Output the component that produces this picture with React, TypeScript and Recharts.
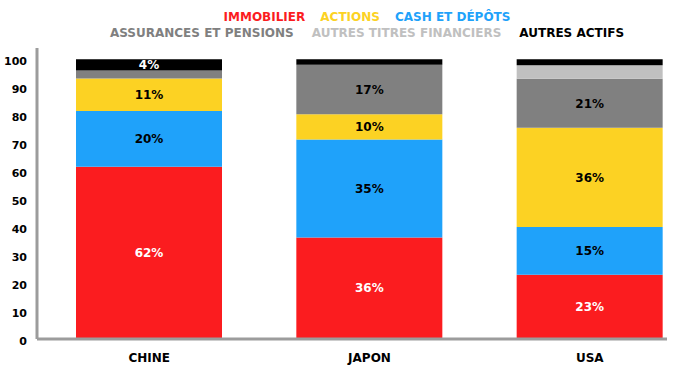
import { BarChart, Bar, XAxis, YAxis, LabelList } from "recharts";

const categories = ["CHINE", "JAPON", "USA"];

// stacked bottom -> top
const immobilier = [61.6, 36.3, 23];
const cash = [19.9, 35, 17];
const actions = [11.6, 9, 35.5];
const assurances = [2.9, 17.7, 17.5];
const autresTitres = [0, 0, 4.8];
const autresActifs = [4, 2, 2.2];

const immobilierLabels = ["62%", "36%", "23%"];
const cashLabels = ["20%", "35%", "15%"];
const actionsLabels = ["11%", "10%", "36%"];
const assurancesLabels = ["", "17%", "21%"];
const autresTitresLabels = ["", "", ""];
const autresActifsLabels = ["4%", "", ""];

const yTicks = [0, 10, 20, 30, 40, 50, 60, 70, 80, 90, 100];

const RED = "#fb1c1f";
const YELLOW = "#fcd223";
const BLUE = "#1fa2fa";
const GRAY = "#808080";
const LIGHT_GRAY = "#c0c0c0";
const BLACK = "#000000";
const AXIS = "#9c9c9c";
const FONT = "'DejaVu Sans', sans-serif";

const data = categories.map((name, i) => ({
  name,
  immobilier: immobilier[i],
  cash: cash[i],
  actions: actions[i],
  assurances: assurances[i],
  autresTitres: autresTitres[i],
  autresActifs: autresActifs[i],
  immobilierLabel: immobilierLabels[i],
  cashLabel: cashLabels[i],
  actionsLabel: actionsLabels[i],
  assurancesLabel: assurancesLabels[i],
  autresTitresLabel: autresTitresLabels[i],
  autresActifsLabel: autresActifsLabels[i],
}));

const legendRows = [
  [
    { name: "IMMOBILIER", color: RED },
    { name: "ACTIONS", color: YELLOW },
    { name: "CASH ET DÉPÔTS", color: BLUE },
  ],
  [
    { name: "ASSURANCES ET PENSIONS", color: GRAY },
    { name: "AUTRES TITRES FINANCIERS", color: LIGHT_GRAY },
    { name: "AUTRES ACTIFS", color: BLACK },
  ],
];

const series = [
  { key: "immobilier", color: RED, labelColor: "#fff" },
  { key: "cash", color: BLUE, labelColor: "#000" },
  { key: "actions", color: YELLOW, labelColor: "#000" },
  { key: "assurances", color: GRAY, labelColor: "#000" },
  { key: "autresTitres", color: LIGHT_GRAY, labelColor: "#000" },
  { key: "autresActifs", color: BLACK, labelColor: "#fff" },
];

export default function App() {
  return (
    <div
      style={{
        position: "absolute",
        left: 0,
        top: 0,
        width: 675,
        height: 367,
        overflow: "hidden",
        background: "#fff",
        fontFamily: FONT,
      }}
    >
      <div
        style={{
          position: "absolute",
          left: 37,
          top: 9,
          width: 660,
          fontSize: 12,
          fontWeight: "bold",
          lineHeight: "16px",
        }}
      >
        {legendRows.map((row, r) => (
          <div key={r} style={{ display: "flex", justifyContent: "center", gap: r === 0 ? 15 : 18 }}>
            {row.map((item) => (
              <span key={item.name} style={{ color: item.color }}>
                {item.name}
              </span>
            ))}
          </div>
        ))}
      </div>
      <div style={{ position: "absolute", left: 0, top: 48 }}>
        <BarChart
          width={675}
          height={320}
          data={data}
          margin={{ top: 0, right: 8, left: 0, bottom: 0 }}
        >
          <XAxis
            dataKey="name"
            height={29}
            padding={{ left: 2, right: -33 }}
            axisLine={{ stroke: AXIS, strokeWidth: 3 }}
            tickLine={false}
            tickMargin={8}
            tick={{ fill: "#000", fontSize: 12, fontWeight: "bold", fontFamily: FONT }}
          />
          <YAxis
            width={37}
            domain={[0, 104]}
            ticks={yTicks}
            interval={0}
            axisLine={{ stroke: AXIS, strokeWidth: 3 }}
            tickLine={false}
            tickMargin={4}
            tick={{ fill: "#000", fontSize: 11, fontWeight: "bold", fontFamily: FONT, dy: 2 }}
          />
          {series.map((s) => (
            <Bar
              key={s.key}
              dataKey={s.key}
              stackId="a"
              fill={s.color}
              barSize={146}
              isAnimationActive={false}
            >
              <LabelList
                dataKey={`${s.key}Label`}
                position="center"
                fill={s.labelColor}
                style={{ fontSize: 12, fontWeight: "bold", fontFamily: FONT }}
              />
            </Bar>
          ))}
        </BarChart>
      </div>
    </div>
  );
}
